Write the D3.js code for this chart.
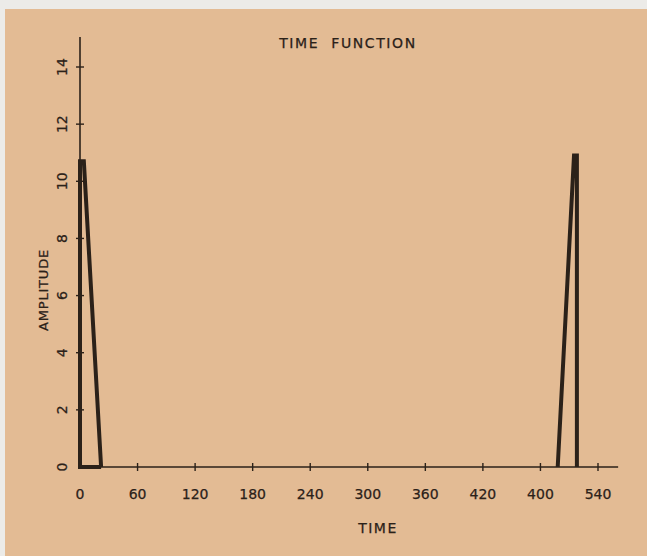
<!DOCTYPE html>
<html>
<head>
<meta charset="utf-8">
<script src="https://cdn.jsdelivr.net/npm/d3@7"></script>
<style>
  html, body { margin: 0; padding: 0; background: #ecebe8; }
  svg text { font-family: "DejaVu Sans", sans-serif; fill: #2b2119; stroke: #2b2119; stroke-width: 0.25; }
</style>
</head>
<body>
<svg id="chart" width="647" height="556"></svg>
<script>
// tick values and labels (as printed on the original, incl. "400" at 480)
var xTicks = [0, 60, 120, 180, 240, 300, 360, 420, 480, 540];
var xTickLabels = ["0", "60", "120", "180", "240", "300", "360", "420", "400", "540"];
var yTicks = [0, 2, 4, 6, 8, 10, 12, 14];

// time function samples, one array pair per pulse
var pulse1Time = [22, 0, 0, 4, 22];
var pulse1Amp  = [0, 0, 10.7, 10.7, 0];
var pulse2Time = [498, 515, 518, 518];
var pulse2Amp  = [0, 10.9, 10.9, 0];

var svg = d3.select("#chart");
var ink = "#2b2119";

// paper
svg.append("rect")
    .attr("x", 5).attr("y", 9)
    .attr("width", 642).attr("height", 547)
    .attr("fill", "#e3bb94");

var xScale = d3.scaleLinear().domain([0, 540]).range([80, 598]);
var yScale = d3.scaleLinear().domain([0, 14]).range([467, 67]);

// axes lines
svg.append("line")
    .attr("x1", xScale(0)).attr("x2", xScale(561))
    .attr("y1", yScale(0)).attr("y2", yScale(0))
    .attr("stroke", ink).attr("stroke-width", 1.6);
svg.append("line")
    .attr("x1", xScale(0)).attr("x2", xScale(0))
    .attr("y1", yScale(0)).attr("y2", yScale(15.05))
    .attr("stroke", ink).attr("stroke-width", 1.6);

//x ticks cross the axis
svg.selectAll(".xtick")
    .data(xTicks.slice(1))
    .enter().append("line")
    .attr("x1", function(d) { return xScale(d); })
    .attr("x2", function(d) { return xScale(d); })
    .attr("y1", yScale(0) - 4).attr("y2", yScale(0) + 4)
    .attr("stroke", ink).attr("stroke-width", 1.4);

svg.selectAll(".xlab")
    .data(xTicks)
    .enter().append("text")
    .attr("x", function(d) { return xScale(d); })
    .attr("y", 499)
    .attr("text-anchor", "middle")
    .attr("font-size", 14)
    .text(function(d, i) { return xTickLabels[i]; });

//y ticks
svg.selectAll(".ytick")
    .data(yTicks.slice(1))
    .enter().append("line")
    .attr("x1", xScale(0) - 4).attr("x2", xScale(0) + 4)
    .attr("y1", function(d) { return yScale(d); })
    .attr("y2", function(d) { return yScale(d); })
    .attr("stroke", ink).attr("stroke-width", 1.4);

svg.selectAll(".ylab")
    .data(yTicks)
    .enter().append("text")
    .attr("transform", function(d) { return "translate(67," + yScale(d) + ") rotate(-90)"; })
    .attr("text-anchor", "middle")
    .attr("font-size", 14)
    .text(function(d) { return d; });

// titles
svg.append("text")
    .attr("x", 348).attr("y", 48)
    .attr("text-anchor", "middle")
    .attr("font-size", 14)
    .attr("letter-spacing", 1.6)
    .attr("word-spacing", 6)
    .text("TIME FUNCTION");

svg.append("text")
    .attr("x", 378).attr("y", 533)
    .attr("text-anchor", "middle")
    .attr("font-size", 14)
    .attr("letter-spacing", 1.5)
    .text("TIME");

svg.append("text")
    .attr("transform", "translate(48,290) rotate(-90)")
    .attr("text-anchor", "middle")
    .attr("font-size", 13)
    .attr("letter-spacing", 0.8)
    .text("AMPLITUDE");

// the pulses
var line = d3.line()
    .x(function(d) { return xScale(d[0]); })
    .y(function(d) { return yScale(d[1]); });

[[pulse1Time, pulse1Amp], [pulse2Time, pulse2Amp]].forEach(function(p) {
    var pts = p[0].map(function(t, i) { return [t, p[1][i]]; });
    svg.append("path")
        .datum(pts)
        .attr("d", line)
        .attr("fill", "none")
        .attr("stroke", ink)
        .attr("stroke-width", 4)
        .attr("stroke-linejoin", "miter");
});
</script>
</body>
</html>
